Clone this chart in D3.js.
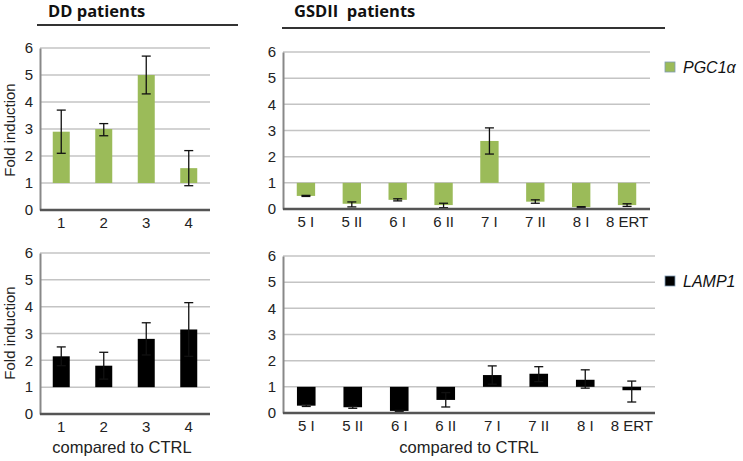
<!doctype html>
<html lang="en">
<head>
<meta charset="utf-8">
<title>PGC1a / LAMP1 fold induction</title>
<script src="https://d3js.org/d3.v7.min.js"></script>
<style>
  body { margin: 0; background: #fff; }
  .tick-lbl { font-family: "Liberation Sans", Arial, sans-serif; font-size: 15px; fill: #222; }
  .head { font-family: "Open Sans", sans-serif; font-weight: bold; font-size: 16.5px; fill: #111; }
</style>
</head>
<body>
<svg id="main" width="743" height="461"></svg>
<script>
// categories
let ddLabels = ['1', '2', '3', '4'];
let gsdLabels = ['5 I', '5 II', '6 I', '6 II', '7 I', '7 II', '8 I', '8 ERT'];
let yTicks = [0, 1, 2, 3, 4, 5, 6];

// PGC1a, DD patients
let ddPgc   = [2.9, 3.0, 5.0, 1.55];
let ddPgcLo = [2.1, 2.75, 4.3, 0.9];
let ddPgcHi = [3.7, 3.2, 5.7, 2.2];

// LAMP1, DD patients
let ddLamp   = [2.15, 1.8, 2.8, 3.15];
let ddLampLo = [1.8, 1.3, 2.2, 2.15];
let ddLampHi = [2.5, 2.3, 3.4, 4.15];

// PGC1a, GSDII patients
let gsdPgc   = [0.5, 0.2, 0.35, 0.15, 2.6, 0.28, 0.07, 0.15];
let gsdPgcLo = [0.48, 0.08, 0.31, 0.05, 2.1, 0.22, 0.05, 0.1];
let gsdPgcHi = [0.52, 0.27, 0.39, 0.22, 3.1, 0.35, 0.09, 0.2];

// LAMP1, GSDII patients
let gsdLamp   = [0.28, 0.22, 0.08, 0.5, 1.45, 1.5, 1.27, 0.87];
let gsdLampLo = [0.25, 0.18, 0.06, 0.23, 1.1, 1.2, 0.95, 0.42];
let gsdLampHi = [0.32, 0.25, 0.1, 0.78, 1.8, 1.77, 1.65, 1.22];

let green = '#9bbb59';
let svg = d3.select('#main');

function drawPanel(p) {
    let x = d3.scaleBand().domain(p.labels).range(p.xr).paddingInner(0.6).paddingOuter(0.3);
    let y = d3.scaleLinear().domain([0, 6]).range(p.yr);
    let g = svg.append('g');

    // gridlines
    g.selectAll('.grid').data(yTicks.slice(1)).join('line')
        .attr('x1', p.xr[0]).attr('x2', p.xr[1])
        .attr('y1', d => y(d)).attr('y2', d => y(d))
        .attr('stroke', '#c4c4c4').attr('stroke-width', 1.5);

    // bars drawn from 1 (fold induction baseline)
    let data = p.vals.map((v, i) => ({ k: p.labels[i], v: v, lo: p.lo[i], hi: p.hi[i] }));
    g.selectAll('.bar').data(data).join('rect')
        .attr('x', d => x(d.k)).attr('width', x.bandwidth())
        .attr('y', d => Math.min(y(1), y(d.v)))
        .attr('height', d => Math.abs(y(d.v) - y(1)))
        .attr('fill', p.color);

    // error bars
    let cap = 4.5;
    let eb = g.selectAll('.err').data(data).join('g').attr('stroke', '#111').attr('stroke-width', 1.3);
    eb.append('line').attr('x1', d => x(d.k) + x.bandwidth() / 2).attr('x2', d => x(d.k) + x.bandwidth() / 2)
        .attr('y1', d => y(d.lo)).attr('y2', d => y(d.hi));
    eb.append('line').attr('x1', d => x(d.k) + x.bandwidth() / 2 - cap).attr('x2', d => x(d.k) + x.bandwidth() / 2 + cap)
        .attr('y1', d => y(d.lo)).attr('y2', d => y(d.lo));
    eb.append('line').attr('x1', d => x(d.k) + x.bandwidth() / 2 - cap).attr('x2', d => x(d.k) + x.bandwidth() / 2 + cap)
        .attr('y1', d => y(d.hi)).attr('y2', d => y(d.hi));

    // axes
    let ya = g.append('g').attr('transform', `translate(${p.xr[0]},0)`)
        .call(d3.axisLeft(y).tickValues(yTicks).tickSize(0).tickPadding(7).tickFormat(d3.format('d')));
    ya.select('.domain').attr('stroke', '#888').attr('stroke-width', 2);
    ya.selectAll('text').attr('class', 'tick-lbl').attr('font-family', null).attr('font-size', null);

    let xa = g.append('g').attr('transform', `translate(0,${y(0)})`)
        .call(d3.axisBottom(x).tickSize(0).tickPadding(7));
    xa.select('.domain').attr('stroke', '#555').attr('stroke-width', 2.5).attr('d', `M${p.xr[0]},0H${p.xr[1]}`);
    xa.selectAll('text').attr('class', 'tick-lbl').attr('font-family', null).attr('font-size', null);
}

drawPanel({ labels: ddLabels, vals: ddPgc, lo: ddPgcLo, hi: ddPgcHi, xr: [40, 210], yr: [210, 48], color: green });
drawPanel({ labels: gsdLabels, vals: gsdPgc, lo: gsdPgcLo, hi: gsdPgcHi, xr: [283, 650], yr: [209, 52], color: green });
drawPanel({ labels: ddLabels, vals: ddLamp, lo: ddLampLo, hi: ddLampHi, xr: [40, 210], yr: [414, 253], color: '#000' });
drawPanel({ labels: gsdLabels, vals: gsdLamp, lo: gsdLampLo, hi: gsdLampHi, xr: [283, 655], yr: [413, 256], color: '#000' });

// headers
svg.append('text').attr('class', 'head').attr('x', 48).attr('y', 17).text('DD patients');
svg.append('line').attr('x1', 37).attr('x2', 238).attr('y1', 25).attr('y2', 25).attr('stroke', '#333').attr('stroke-width', 2);
svg.append('text').attr('class', 'head').attr('x', 294).attr('y', 17).attr('xml:space', 'preserve').text('GSDII  patients');
svg.append('line').attr('x1', 282).attr('x2', 665).attr('y1', 28).attr('y2', 28).attr('stroke', '#333').attr('stroke-width', 2);

// y axis titles
[130, 333].forEach(cy => {
    svg.append('text').attr('transform', `translate(15,${cy}) rotate(-90)`)
        .attr('text-anchor', 'middle').attr('font-family', 'Liberation Sans, Arial, sans-serif')
        .attr('font-size', 15).attr('fill', '#222').text('Fold induction');
});

// x titles
[[122, 453], [469, 453]].forEach(([cx, cy]) => {
    svg.append('text').attr('x', cx).attr('y', cy).attr('text-anchor', 'middle')
        .attr('font-family', 'Liberation Sans, Arial, sans-serif').attr('font-size', 16.5).attr('fill', '#222')
        .text('compared to CTRL');
});

// legends
let legends = [['PGC1α', green, 62], ['LAMP1', '#000', 276]];
legends.forEach(([name, col, ly]) => {
    svg.append('rect').attr('x', 665).attr('y', ly).attr('width', 10).attr('height', 10)
        .attr('fill', col).attr('stroke', '#7f9bb5').attr('stroke-width', 0.8);
    svg.append('text').attr('x', 683).attr('y', ly + 11).attr('font-family', 'Liberation Sans, Arial, sans-serif')
        .attr('font-size', 16).attr('font-style', 'italic').attr('fill', '#111').text(name);
});
</script>
</body>
</html>
